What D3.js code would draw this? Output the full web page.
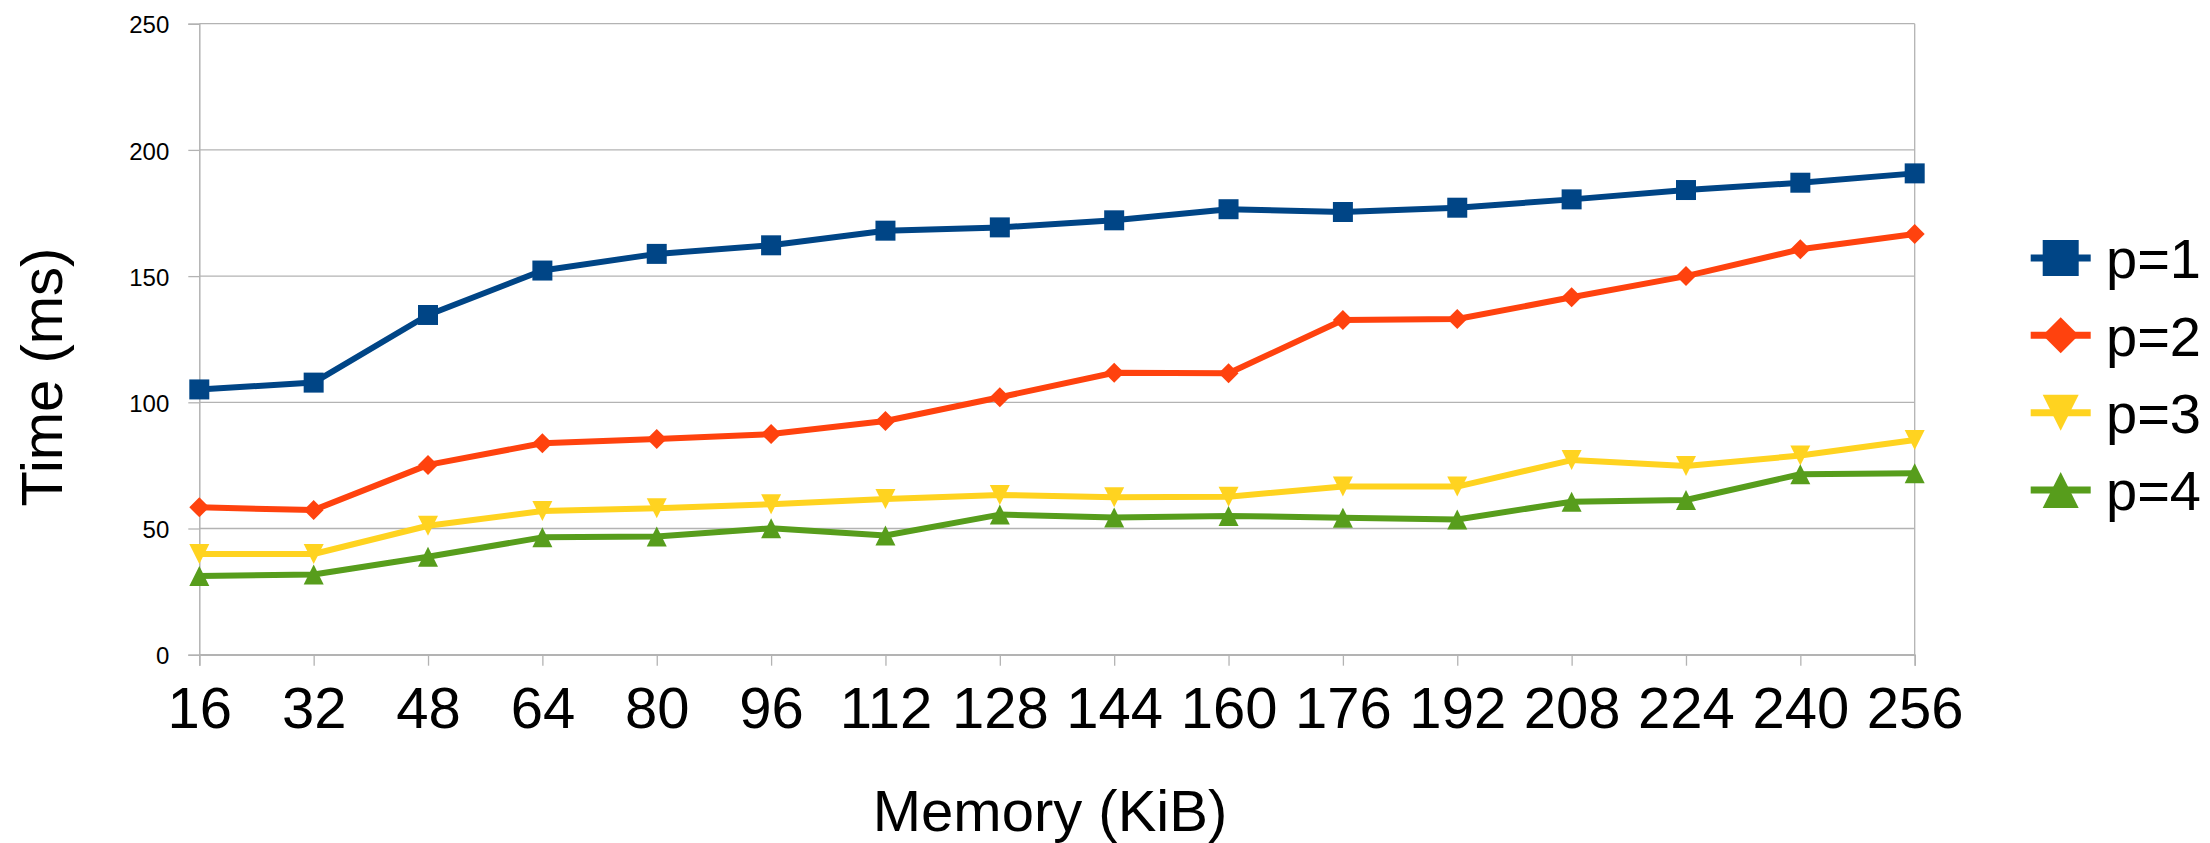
<!DOCTYPE html>
<html>
<head>
<meta charset="utf-8">
<script src="https://cdn.jsdelivr.net/npm/d3@7"></script>
<style>
  html, body { margin: 0; padding: 0; background: #ffffff; }
  svg { display: block; font-family: "Liberation Sans", Arial, sans-serif; }
</style>
</head>
<body>
<svg id="chart" width="2210" height="843"></svg>
<script>
// ---- data ----
const memory = [16, 32, 48, 64, 80, 96, 112, 128, 144, 160, 176, 192, 208, 224, 240, 256];
const p1 = [105.1, 107.8, 134.6, 152.2, 158.8, 162.2, 168.0, 169.3, 172.1, 176.5, 175.4, 177.1, 180.4, 184.1, 187.0, 190.7];
const p2 = [58.4, 57.3, 75.2, 83.8, 85.5, 87.4, 92.6, 102.0, 111.7, 111.5, 132.6, 133.0, 141.6, 150.0, 160.6, 166.7];
const p3 = [39.9, 39.9, 51.1, 56.9, 58.0, 59.6, 61.7, 63.3, 62.4, 62.6, 66.6, 66.6, 77.1, 74.8, 78.9, 85.1];
const p4 = [31.2, 31.8, 38.8, 46.5, 46.8, 50.1, 47.2, 55.5, 54.4, 55.0, 54.3, 53.6, 60.6, 61.3, 71.5, 71.9];
const seriesNames = ["p=1", "p=2", "p=3", "p=4"];
const yTicks = [0, 50, 100, 150, 200, 250];
const xTitle = "Memory (KiB)";
const yTitle = "Time (ms)";

const seriesValues = [p1, p2, p3, p4];
const colors = ["#004586", "#ff420e", "#ffd320", "#579d1c"];
const shapes = ["square", "diamond", "down", "up"];

// ---- layout ----
const plot = { left: 199.3, right: 1914.7, top: 23.7, bottom: 654.7 };
const svg = d3.select("#chart");
const x = d3.scaleLinear().domain([16, 256]).range([plot.left, plot.right]);
const y = d3.scaleLinear().domain([0, 250]).range([plot.bottom, plot.top]);
const gridColor = "#b3b3b3";

// gridlines
svg.append("g").selectAll("line").data(yTicks).join("line")
  .attr("x1", plot.left).attr("x2", plot.right)
  .attr("y1", d => y(d)).attr("y2", d => y(d))
  .attr("stroke", gridColor).attr("stroke-width", 1.3);
// right border
svg.append("line").attr("x1", plot.right).attr("x2", plot.right)
  .attr("y1", plot.top).attr("y2", plot.bottom)
  .attr("stroke", gridColor).attr("stroke-width", 1.3);

// y axis
const yAxis = svg.append("g").attr("transform", `translate(${plot.left},0)`)
  .call(d3.axisLeft(y).tickValues(yTicks).tickSize(11).tickPadding(19));
yAxis.select(".domain").attr("stroke", gridColor).attr("stroke-width", 1.5);
yAxis.selectAll(".tick line").attr("stroke", gridColor).attr("stroke-width", 1.3);
yAxis.selectAll(".tick text").attr("font-size", 24).attr("fill", "#000")
  .attr("font-family", "Liberation Sans, Arial, sans-serif").attr("dy", "0.38em");

// x axis
const xAxis = svg.append("g").attr("transform", `translate(0,${plot.bottom})`)
  .call(d3.axisBottom(x).tickValues(memory).tickSize(11).tickFormat(d3.format("d")));
xAxis.select(".domain").attr("stroke", gridColor).attr("stroke-width", 1.5);
xAxis.selectAll(".tick line").attr("stroke", gridColor).attr("stroke-width", 1.3);
xAxis.selectAll(".tick text").attr("font-size", 58).attr("fill", "#000")
  .attr("font-family", "Liberation Sans, Arial, sans-serif")
  .attr("y", 73.6).attr("dy", 0);

// axis titles
svg.append("text").attr("x", 1050).attr("y", 831)
  .attr("text-anchor", "middle").attr("font-size", 58).attr("fill", "#000").text(xTitle);
svg.append("text").attr("transform", `translate(61.7,377) rotate(-90)`)
  .attr("text-anchor", "middle").attr("font-size", 58).attr("fill", "#000").text(yTitle);

// marker path generator
function markerPath(shape, s) {
  const h = s / 2;
  if (shape === "square") return `M${-h},${-h}H${h}V${h}H${-h}Z`;
  if (shape === "diamond") return `M0,${-h}L${h},0L0,${h}L${-h},0Z`;
  if (shape === "down") return `M${-h},${-h}L${h},${-h}L0,${h}Z`;
  return `M${-h},${h}L${h},${h}L0,${-h}Z`;
}

const line = d3.line().x((d, i) => x(memory[i])).y(d => y(d));

seriesValues.forEach((vals, si) => {
  const g = svg.append("g");
  g.append("path").datum(vals).attr("d", line)
    .attr("fill", "none").attr("stroke", colors[si]).attr("stroke-width", 6)
    .attr("stroke-linejoin", "round");
  g.selectAll("path.m").data(vals).join("path").attr("class", "m")
    .attr("transform", (d, i) => `translate(${x(memory[i])},${y(d)})`)
    .attr("d", markerPath(shapes[si], 20))
    .attr("fill", colors[si]);
});

// legend
const legendRows = [258, 335.3, 412.7, 490];
seriesNames.forEach((name, si) => {
  const cy = legendRows[si];
  const g = svg.append("g");
  g.append("line").attr("x1", 2030.7).attr("x2", 2090.7).attr("y1", cy).attr("y2", cy)
    .attr("stroke", colors[si]).attr("stroke-width", 7);
  g.append("path").attr("transform", `translate(2060.7,${cy})`)
    .attr("d", markerPath(shapes[si], 36)).attr("fill", colors[si]);
  g.append("text").attr("x", 2106).attr("y", cy + 20.3)
    .attr("font-size", 56).attr("fill", "#000").text(name);
});
</script>
</body>
</html>
